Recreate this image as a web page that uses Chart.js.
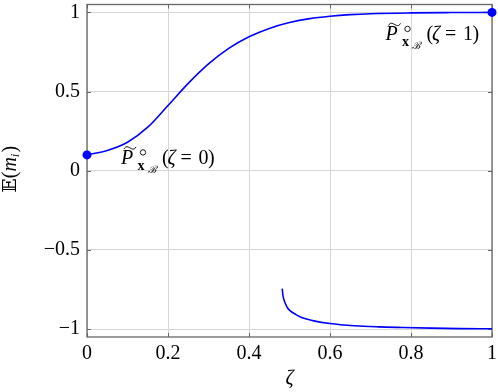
<!DOCTYPE html>
<html><head><meta charset="utf-8">
<script src="https://cdn.jsdelivr.net/npm/chart.js@4/dist/chart.umd.min.js"></script>
<style>html,body{margin:0;padding:0;background:#fff}#c{display:block}</style>
</head><body><canvas id="c" width="498" height="392"></canvas>
<script>
// ---- data ----
const upperX = [0, 0.05, 0.1, 0.15, 0.2, 0.25, 0.3, 0.35, 0.4, 0.45, 0.5, 0.55, 0.6, 0.65, 0.7, 0.8, 0.9, 1.0];
const upperY = [0.10, 0.128, 0.18, 0.275, 0.412, 0.552, 0.675, 0.773, 0.846, 0.899, 0.936, 0.961, 0.976, 0.986, 0.992, 0.997, 0.999, 1.0];
const lowerX = [0.482, 0.484, 0.487, 0.49, 0.495, 0.502, 0.515, 0.527, 0.545, 0.56, 0.6, 0.66, 0.72, 0.78, 0.85, 0.92, 1.0];
const lowerY = [-0.745, -0.79, -0.82, -0.84, -0.865, -0.885, -0.907, -0.923, -0.938, -0.948, -0.965, -0.979, -0.986, -0.99, -0.994, -0.997, -0.998];
const endpointX = [0, 1];
const endpointY = [0.1, 1];
const endpointZeta = ['0', '1'];
const xTicks = [0, 0.2, 0.4, 0.6, 0.8, 1];
const xTickLabels = ['0', '0.2', '0.4', '0.6', '0.8', '1'];
const yTicks = [-1, -0.5, 0, 0.5, 1];
const yTickLabels = ['\u22121', '\u22120.5', '0', '0.5', '1'];
const xTitle = '\u03B6';

const BLUE = '#0000ff';
const SERIF = '"Liberation Serif", "DejaVu Serif", serif';
const toPts = (xs, ys) => xs.map((x, i) => ({x, y: ys[i]}));

function drawLabel(ctx, x0, y0, zeta) {
  ctx.save();
  ctx.fillStyle = '#000';
  ctx.strokeStyle = '#000';
  ctx.textAlign = 'left';
  ctx.textBaseline = 'alphabetic';
  ctx.font = 'italic 20px ' + SERIF;
  ctx.fillText('P', x0, y0);
  // tilde over P
  ctx.lineWidth = 1;
  ctx.beginPath();
  const tx = x0 + 3, ty = y0 - 16;
  ctx.moveTo(tx, ty + 1);
  ctx.bezierCurveTo(tx + 2, ty - 2.5, tx + 4, ty - 1, tx + 6, ty);
  ctx.bezierCurveTo(tx + 8, ty + 1, tx + 10, ty + 2.5, tx + 12, ty - 1);
  ctx.stroke();
  // superscript circle
  ctx.beginPath();
  ctx.arc(x0 + 22, y0 - 11.5, 2.7, 0, Math.PI * 2);
  ctx.lineWidth = 0.9;
  ctx.stroke();
  // subscript bold x with script B
  ctx.font = 'bold 14px ' + SERIF;
  ctx.fillText('x', x0 + 16.5, y0 + 6);
  ctx.font = 'italic 10px "DejaVu Serif", serif';
  ctx.fillText('\u212C', x0 + 26.5, y0 + 9);
  ctx.font = '20px ' + SERIF;
  ctx.fillText('(', x0 + 41, y0);
  ctx.font = 'italic 20px ' + SERIF;
  ctx.fillText('\u03B6', x0 + 46.5, y0);
  ctx.font = '20px ' + SERIF;
  ctx.fillText('=', x0 + 59.5, y0);
  ctx.fillText(zeta, x0 + 77.5, y0);
  ctx.fillText(')', x0 + 87, y0);
  ctx.restore();
}

const decorPlugin = {
  id: 'decor',
  beforeDatasetsDraw(chart) {
    const {ctx, chartArea: a, scales: {x, y}} = chart;
    ctx.save();
    ctx.strokeStyle = '#666';
    ctx.lineWidth = 1;
    ctx.beginPath();
    xTicks.forEach(v => {
      const px = Math.round(x.getPixelForValue(v)) + 0.5;
      ctx.moveTo(px, a.bottom); ctx.lineTo(px, a.bottom - 4);
      ctx.moveTo(px, a.top); ctx.lineTo(px, a.top + 4);
    });
    yTicks.forEach(v => {
      const py = Math.round(y.getPixelForValue(v)) + 0.5;
      ctx.moveTo(a.left, py); ctx.lineTo(a.left + 4, py);
      ctx.moveTo(a.right, py); ctx.lineTo(a.right - 4, py);
    });
    ctx.stroke();
    ctx.lineWidth = 1.3;
    ctx.strokeRect(a.left, a.top, a.right - a.left, a.bottom - a.top);
    ctx.restore();
  },
  afterDraw(chart) {
    const {ctx, chartArea: a, scales: {x, y}} = chart;
    const p0x = x.getPixelForValue(endpointX[0]), p0y = y.getPixelForValue(endpointY[0]);
    const p1x = x.getPixelForValue(endpointX[1]), p1y = y.getPixelForValue(endpointY[1]);
    drawLabel(ctx, p0x + 34, p0y + 9, endpointZeta[0]);
    drawLabel(ctx, p1x - 106.5, p1y + 28, endpointZeta[1]);
    // x title
    ctx.save();
    ctx.fillStyle = '#000';
    ctx.font = 'italic 20px ' + SERIF;
    ctx.textAlign = 'center';
    ctx.textBaseline = 'alphabetic';
    ctx.fillText(xTitle, (a.left + a.right) / 2, 384);
    ctx.restore();
    // y title
    ctx.save();
    ctx.fillStyle = '#000';
    ctx.translate(16, (a.top + a.bottom) / 2 + 22);
    ctx.rotate(-Math.PI / 2);
    ctx.textAlign = 'left';
    ctx.textBaseline = 'alphabetic';
    let cx = 0;
    ctx.font = '19px "DejaVu Serif", "DejaVu Sans", serif';
    ctx.fillText('\uD835\uDD3C', cx, 0); cx += ctx.measureText('\uD835\uDD3C').width;
    ctx.font = '20px ' + SERIF;
    ctx.fillText('(', cx, 0); cx += ctx.measureText('(').width;
    ctx.font = 'italic 20px ' + SERIF;
    ctx.fillText('m', cx, 0); cx += ctx.measureText('m').width;
    ctx.font = 'italic 13px ' + SERIF;
    ctx.fillText('i', cx, 3); cx += ctx.measureText('i').width + 1;
    ctx.font = '20px ' + SERIF;
    ctx.fillText(')', cx, 0);
    ctx.restore();
  }
};

new Chart(document.getElementById('c'), {
  type: 'scatter',
  data: {
    datasets: [
      {data: toPts(upperX, upperY), showLine: true, borderColor: BLUE, borderWidth: 1.6, pointRadius: 0, cubicInterpolationMode: 'monotone', order: 2},
      {data: toPts(lowerX, lowerY), showLine: true, borderColor: BLUE, borderWidth: 1.6, pointRadius: 0, cubicInterpolationMode: 'monotone', order: 2},
      {data: toPts(endpointX, endpointY), showLine: false, backgroundColor: BLUE, borderColor: BLUE, pointRadius: 4.5, borderWidth: 0, clip: false, order: 1}
    ]
  },
  options: {
    responsive: false,
    animation: false,
    devicePixelRatio: 1,
    layout: {padding: {left: 0, right: 6, top: 1, bottom: 0}},
    plugins: {legend: {display: false}, tooltip: {enabled: false}},
    scales: {
      x: {
        type: 'linear', min: 0, max: 1,
        afterBuildTicks: s => { s.ticks = xTicks.map(v => ({value: v})); },
        afterFit: s => { s.height = 55; s.paddingLeft = 0; s.paddingRight = 0; },
        ticks: {callback: (v, i) => xTickLabels[i], color: '#000', font: {family: SERIF, size: 20}, padding: 5, maxRotation: 0, autoSkip: false},
        grid: {color: '#d6d6d6', lineWidth: 1, drawTicks: false},
        border: {display: false}
      },
      y: {
        type: 'linear', min: -1.05, max: 1.05,
        afterBuildTicks: s => { s.ticks = yTicks.map(v => ({value: v})); },
        afterFit: s => { s.width = 87; s.paddingTop = 0; s.paddingBottom = 0; },
        ticks: {callback: (v, i) => yTickLabels[i], color: '#000', font: {family: SERIF, size: 20}, padding: 7, autoSkip: false},
        grid: {color: '#d6d6d6', lineWidth: 1, drawTicks: false},
        border: {display: false}
      }
    }
  },
  plugins: [decorPlugin]
});
</script>
</body></html>
